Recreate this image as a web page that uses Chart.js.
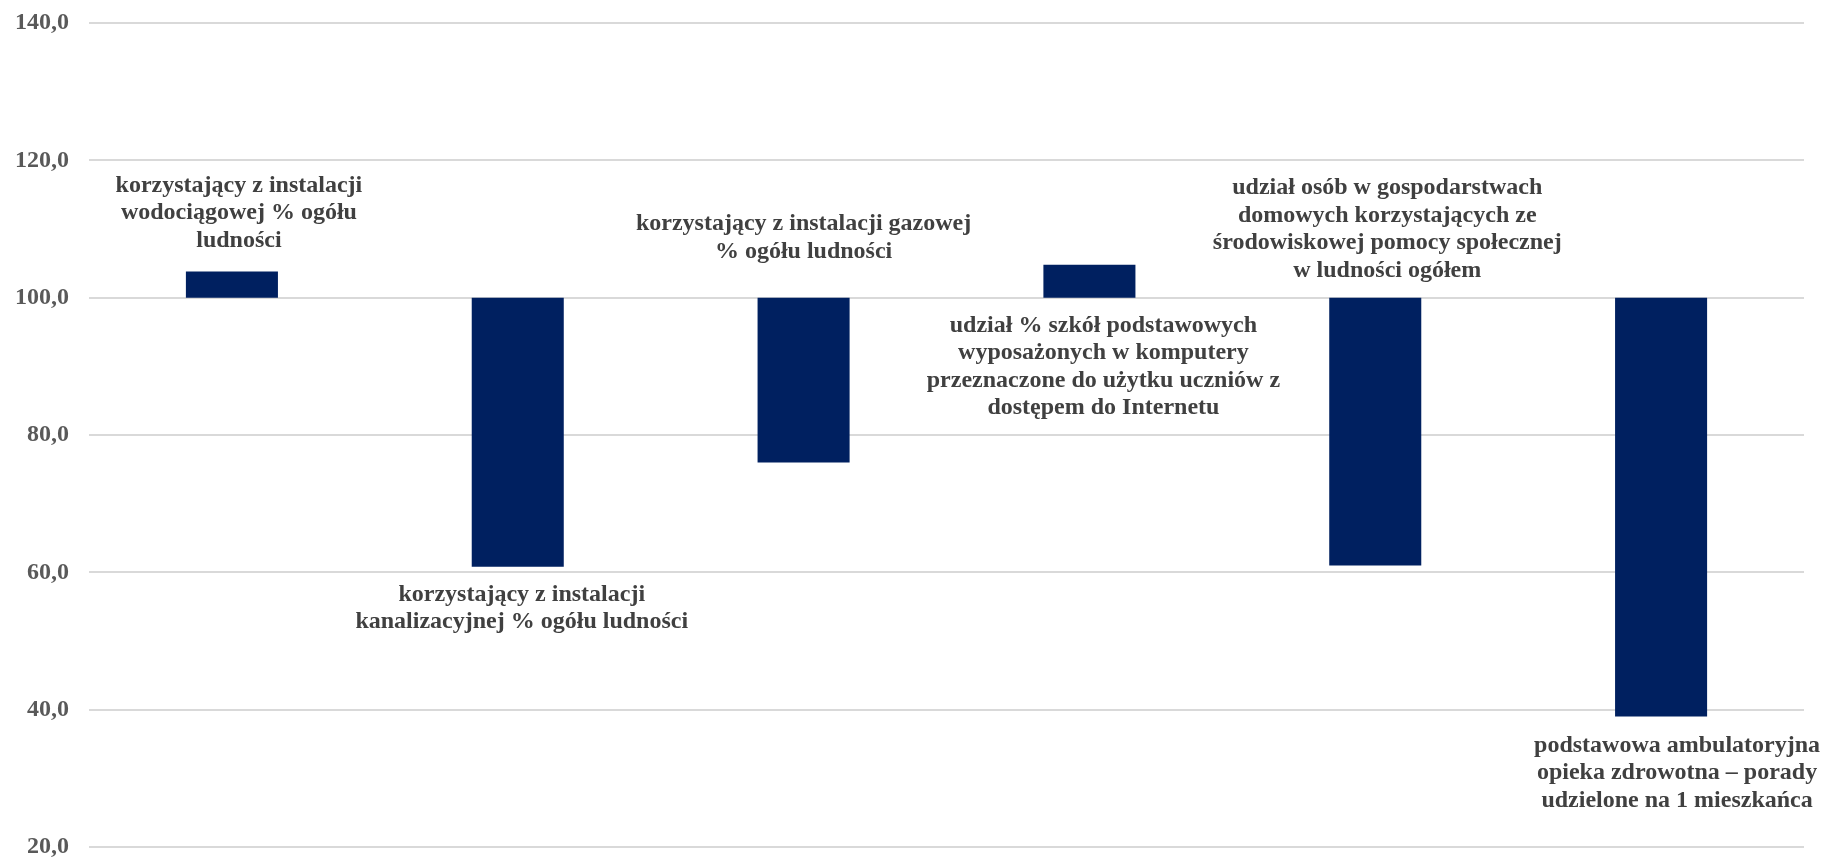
<!DOCTYPE html>
<html>
	<head>
		<title>Wskaźniki</title>
        <meta charset="UTF-8">
        <script src="https://cdn.jsdelivr.net/npm/chart.js@4.4.0/dist/chart.umd.min.js"></script>
        <style>
            body { margin: 0; background: #fff; }
            #wrap { width: 1827px; height: 859px; }
        </style>
	</head>
	<body>
		<div id="wrap"><canvas id="myChart"></canvas></div>
		<script>
            // categories (already wrapped as in the picture)
            const categories = [
                ['korzystający z instalacji', 'wodociągowej % ogółu', 'ludności'],
                ['korzystający z instalacji', 'kanalizacyjnej % ogółu ludności'],
                ['korzystający z instalacji gazowej', '% ogółu ludności'],
                ['udział % szkół podstawowych', 'wyposażonych w komputery', 'przeznaczone do użytku uczniów z', 'dostępem do Internetu'],
                ['udział osób w gospodarstwach', 'domowych korzystających ze', 'środowiskowej pomocy społecznej', 'w ludności ogółem'],
                ['podstawowa ambulatoryjna', 'opieka zdrowotna – porady', 'udzielone na 1 mieszkańca']
            ];
            const baseValue = 100;
            const values = [103.8, 60.8, 76.0, 104.8, 61.0, 39.0];
            const yTicks = [20, 40, 60, 80, 100, 120, 140];

            const fontFamily = "'Liberation Serif', 'Times New Roman', serif";

            // where each label sits relative to its bar
            const labelPlacement = [
                { side: 'top', gap: 25, dx: 7 },
                { side: 'bottom', gap: 34, dx: 4 },
                { side: 'top', gap: 40, dx: 0 },
                { side: 'bottom', gap: 34, dx: 14 },
                { side: 'top', gap: 21, dx: 12 },
                { side: 'bottom', gap: 35, dx: 16 }
            ];

            const barLabels = {
                id: 'barLabels',
                afterDatasetsDraw(chart) {
                    const ctx = chart.ctx;
                    const meta = chart.getDatasetMeta(0);
                    const lh = 27.5;
                    ctx.save();
                    ctx.font = 'bold 24px ' + fontFamily;
                    ctx.fillStyle = '#404040';
                    ctx.textAlign = 'center';
                    ctx.textBaseline = 'alphabetic';
                    meta.data.forEach((bar, i) => {
                        const lines = categories[i];
                        const p = labelPlacement[i];
                        const top = Math.min(bar.y, bar.base);
                        const bottom = Math.max(bar.y, bar.base);
                        let y0;
                        if (p.side === 'top') {
                            y0 = top - p.gap - lh * (lines.length - 1);
                        } else {
                            y0 = bottom + p.gap;
                        }
                        lines.forEach((t, k) => {
                            ctx.fillText(t, bar.x + p.dx, y0 + k * lh);
                        });
                    });
                    ctx.restore();
                }
            };

            const ctx = document.getElementById('myChart').getContext('2d');
            const chart = new Chart(ctx, {
                type: 'bar',
                data: {
                    labels: categories,
                    datasets: [{
                        data: values.map(v => [baseValue, v]),
                        backgroundColor: '#002060',
                        borderSkipped: false,
                        categoryPercentage: 1,
                        barPercentage: 0.322
                    }]
                },
                options: {
                    responsive: true,
                    maintainAspectRatio: false,
                    animation: false,
                    layout: { padding: { left: 15, right: 23, top: 23, bottom: 12 } },
                    plugins: {
                        legend: { display: false },
                        tooltip: { enabled: false }
                    },
                    scales: {
                        x: { display: false },
                        y: {
                            min: 20,
                            max: 140,
                            afterBuildTicks: axis => {
                                axis.ticks = yTicks.map(v => ({ value: v }));
                            },
                            afterFit: axis => {
                                axis.width = 74;
                                axis.paddingTop = 0;
                                axis.paddingBottom = 0;
                            },
                            border: { display: false },
                            grid: { color: '#d9d9d9', lineWidth: 2, drawTicks: false },
                            ticks: {
                                padding: 20,
                                color: '#595959',
                                font: { family: fontFamily, size: 24, weight: 'bold' },
                                callback: v => v.toFixed(1).replace('.', ',')
                            }
                        }
                    }
                },
                plugins: [barLabels]
            });
		</script>
	</body>
</html>
